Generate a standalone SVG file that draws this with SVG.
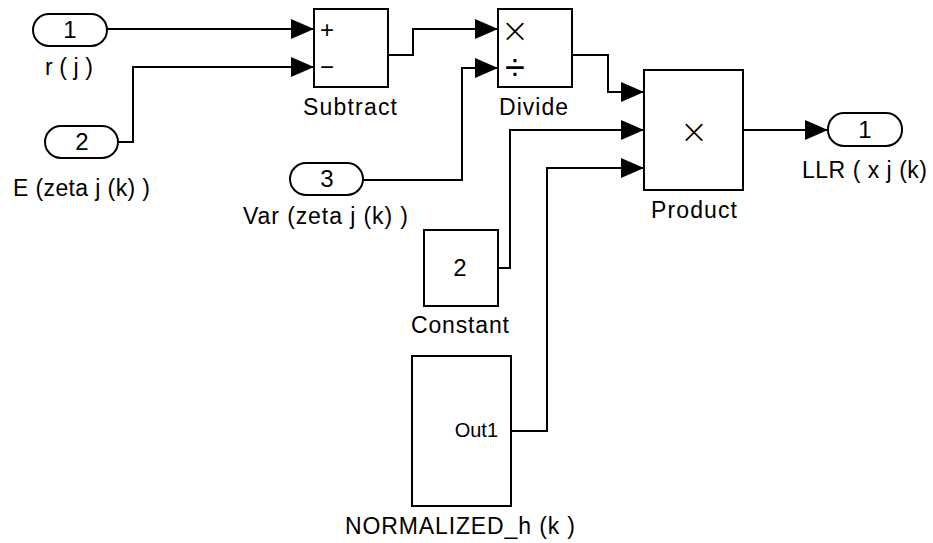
<svg xmlns="http://www.w3.org/2000/svg" width="933" height="543" viewBox="0 0 933 543">
<style>
  text { font-family: "Liberation Sans", Arial, sans-serif; font-size: 23px; fill: #000; }
  .lbl { text-anchor: start; }
  .num { text-anchor: middle; font-size: 24px; }
  .pm { text-anchor: middle; font-size: 24px; }
  .sym { text-anchor: middle; font-family: "DejaVu Sans", sans-serif; font-size: 34px; font-weight: 200; }
  .div { text-anchor: middle; font-size: 36px; }
  .small { text-anchor: end; font-size: 20px; }
  .blk { fill: #fff; stroke: #000; stroke-width: 2; }
  .port { fill: #fff; stroke: #000; stroke-width: 2; }
  .wire { fill: none; stroke: #000; stroke-width: 2; marker-end: url(#arr); }
</style>
<defs>
  <marker id="arr" markerUnits="userSpaceOnUse" markerWidth="23" markerHeight="20" refX="23" refY="10" orient="auto" viewBox="0 0 23 20">
    <path d="M0,0 L23,10 L0,20 Z" fill="#000"/>
  </marker>
</defs>
<rect width="933" height="543" fill="#fff"/>

<g id="connectors">
  <path class="wire" d="M107,29 H314"/>
  <path class="wire" d="M118,142 H133 V67 H314"/>
  <path class="wire" d="M388,55 H413 V29 H498"/>
  <path class="wire" d="M363,180 H462 V68 H498"/>
  <path class="wire" d="M572,55 H608 V92 H644"/>
  <path class="wire" d="M498,268 H510 V130 H644"/>
  <path class="wire" d="M511,431 H547 V168 H644"/>
  <path class="wire" d="M743,130 H828"/>
</g>

<g id="in1">
  <rect class="port" x="33" y="14" width="74" height="32" rx="16"/>
  <text class="num" x="70" y="38">1</text>
  <text class="lbl" x="45" y="75" textLength="48" lengthAdjust="spacing">r ( j )</text>
</g>
<g id="in2">
  <rect class="port" x="45" y="126" width="73" height="32" rx="16"/>
  <text class="num" x="82" y="150">2</text>
  <text class="lbl" x="13" y="196" textLength="137" lengthAdjust="spacing">E (zeta j (k) )</text>
</g>
<g id="in3">
  <rect class="port" x="290" y="163" width="73" height="32" rx="16"/>
  <text class="num" x="327" y="187">3</text>
  <text class="lbl" x="243" y="224" textLength="165" lengthAdjust="spacing">Var (zeta j (k) )</text>
</g>
<g id="subtract">
  <rect class="blk" x="314" y="9" width="74" height="78"/>
  <text class="pm" x="327" y="38">+</text>
  <text class="pm" x="327" y="75">−</text>
  <text class="lbl" x="303" y="115" textLength="94" lengthAdjust="spacing">Subtract</text>
</g>
<g id="divide">
  <rect class="blk" x="498" y="9" width="74" height="78"/>
  <text class="sym" x="515" y="42">×</text>
  <text class="div" x="515" y="80">÷</text>
  <text class="lbl" x="499" y="115" textLength="69" lengthAdjust="spacing">Divide</text>
</g>
<g id="product">
  <rect class="blk" x="644" y="70" width="99" height="120"/>
  <text class="sym" x="694" y="143">×</text>
  <text class="lbl" x="651" y="218" textLength="86" lengthAdjust="spacing">Product</text>
</g>
<g id="out1">
  <rect class="port" x="828" y="113" width="74" height="33" rx="16"/>
  <text class="num" x="865" y="138">1</text>
  <text class="lbl" x="802" y="178" textLength="125" lengthAdjust="spacing">LLR ( x j (k)</text>
</g>
<g id="constant">
  <rect class="blk" x="424" y="230" width="74" height="76"/>
  <text class="num" x="460" y="276">2</text>
  <text class="lbl" x="411" y="333" textLength="98" lengthAdjust="spacing">Constant</text>
</g>
<g id="normalized">
  <rect class="blk" x="412" y="356" width="99" height="150"/>
  <text class="small" x="498" y="437">Out1</text>
  <text class="lbl" x="345" y="534" textLength="230" lengthAdjust="spacing">NORMALIZED_h (k )</text>
</g>
</svg>
